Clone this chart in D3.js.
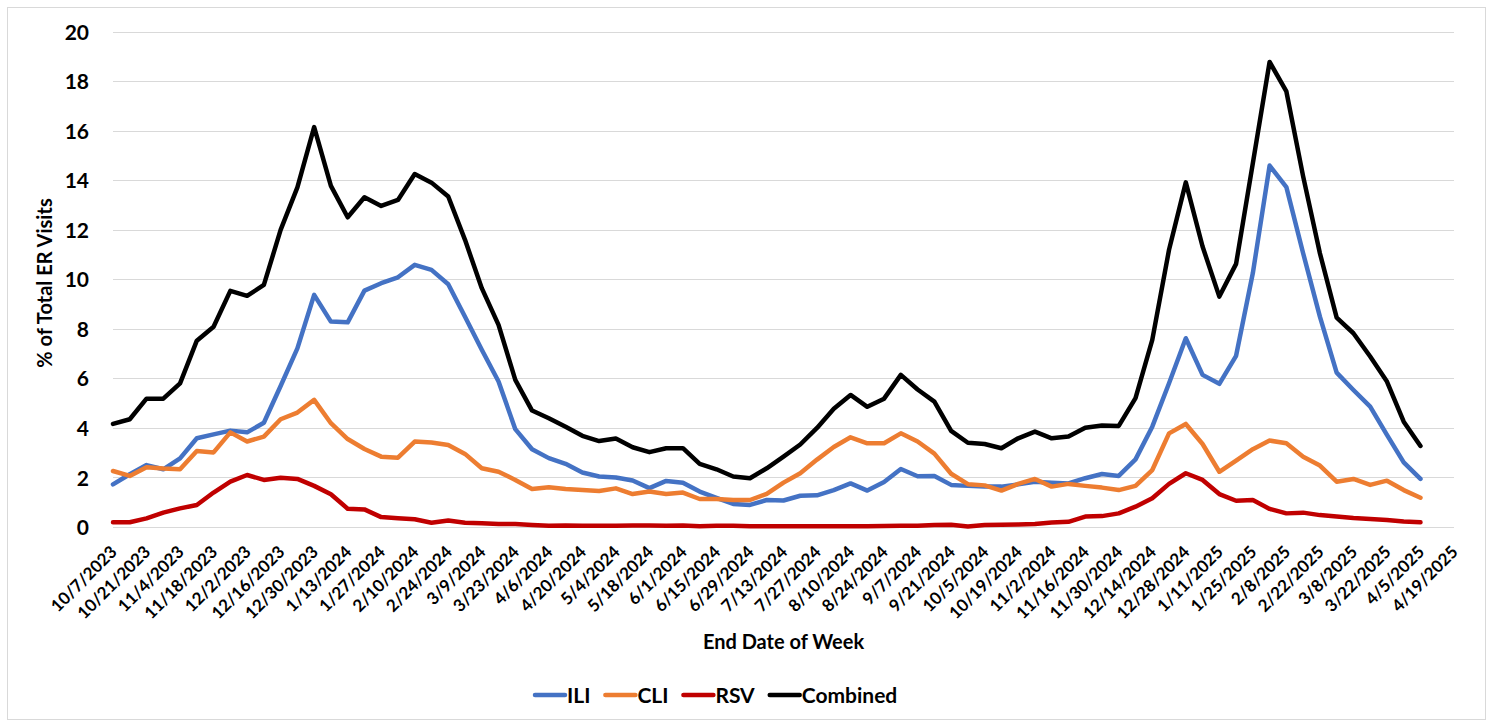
<!DOCTYPE html>
<html><head><meta charset="utf-8">
<script src="https://cdn.jsdelivr.net/npm/d3@7"></script>
<style>
body{margin:0;background:#fff}
svg{display:block}
text{font-family:Lato,'Open Sans',sans-serif;font-weight:700;fill:#000}
</style>
</head><body>
<svg id="chart" width="1493" height="721"></svg>
<script>
const firstWeek = "10/7/2023";
const tickLabels = ["10/7/2023","10/21/2023","11/4/2023","11/18/2023","12/2/2023","12/16/2023","12/30/2023",
"1/13/2024","1/27/2024","2/10/2024","2/24/2024","3/9/2024","3/23/2024","4/6/2024","4/20/2024","5/4/2024",
"5/18/2024","6/1/2024","6/15/2024","6/29/2024","7/13/2024","7/27/2024","8/10/2024","8/24/2024","9/7/2024",
"9/21/2024","10/5/2024","10/19/2024","11/2/2024","11/16/2024","11/30/2024","12/14/2024","12/28/2024",
"1/11/2025","1/25/2025","2/8/2025","2/22/2025","3/8/2025","3/22/2025","4/5/2025","4/19/2025"];

const ili = [1.72,2.13,2.50,2.33,2.77,3.58,3.74,3.89,3.82,4.21,5.69,7.21,9.37,8.29,8.26,9.54,9.84,10.08,10.58,10.38,
9.80,8.49,7.15,5.87,3.95,3.14,2.78,2.55,2.20,2.04,2.00,1.88,1.57,1.86,1.79,1.43,1.18,0.93,0.89,1.09,
1.07,1.26,1.28,1.49,1.76,1.47,1.82,2.34,2.05,2.06,1.70,1.66,1.63,1.63,1.72,1.83,1.79,1.76,1.97,2.14,
2.06,2.73,4.05,5.80,7.62,6.14,5.78,6.91,10.25,14.59,13.72,11.05,8.49,6.23,5.53,4.86,3.72,2.61,1.94];

const cli = [2.26,2.06,2.41,2.36,2.33,3.07,3.01,3.82,3.45,3.65,4.35,4.62,5.13,4.19,3.55,3.15,2.84,2.80,3.45,3.41,
3.31,2.95,2.37,2.23,1.90,1.53,1.60,1.53,1.49,1.45,1.56,1.33,1.43,1.33,1.39,1.13,1.13,1.09,1.09,1.34,
1.79,2.17,2.72,3.23,3.62,3.38,3.38,3.78,3.45,2.96,2.15,1.73,1.68,1.47,1.74,1.94,1.63,1.74,1.66,1.59,
1.49,1.66,2.30,3.78,4.16,3.35,2.23,2.68,3.14,3.49,3.38,2.84,2.48,1.83,1.94,1.70,1.87,1.49,1.18];

const rsv = [0.19,0.19,0.35,0.58,0.75,0.89,1.39,1.83,2.10,1.90,1.99,1.94,1.66,1.32,0.74,0.71,0.40,0.35,0.31,0.17,
0.26,0.17,0.15,0.12,0.12,0.08,0.05,0.06,0.05,0.05,0.05,0.06,0.06,0.05,0.06,0.03,0.05,0.05,0.03,0.03,
0.03,0.03,0.03,0.03,0.03,0.03,0.04,0.05,0.05,0.08,0.09,0.02,0.08,0.09,0.10,0.12,0.18,0.21,0.42,0.44,
0.55,0.82,1.16,1.74,2.17,1.90,1.33,1.06,1.09,0.73,0.55,0.58,0.48,0.42,0.36,0.32,0.28,0.22,0.19];

const combined = [4.16,4.35,5.18,5.18,5.80,7.52,8.08,9.53,9.33,9.77,11.99,13.71,16.14,13.77,12.50,13.31,12.96,13.20,14.25,13.90,
13.34,11.59,9.64,8.16,5.94,4.70,4.39,4.05,3.68,3.47,3.57,3.22,3.02,3.18,3.18,2.55,2.33,2.04,1.97,2.37,
2.84,3.33,4.00,4.77,5.33,4.85,5.18,6.14,5.55,5.06,3.88,3.40,3.35,3.18,3.58,3.85,3.58,3.65,4.01,4.10,
4.08,5.20,7.55,11.19,13.91,11.32,9.30,10.62,14.69,18.77,17.58,14.15,11.05,8.45,7.82,6.88,5.87,4.25,3.27];

const seriesNames = ["ILI","CLI","RSV","Combined"];
const seriesColors = ["#4472C4","#ED7D31","#C00000","#000000"];
const yTicks = [0,2,4,6,8,10,12,14,16,18,20];
const yTitle = "% of Total ER Visits";
const xTitle = "End Date of Week";

const parse = d3.utcParse("%m/%d/%Y");
const start = parse(firstWeek);
const weeks = ili.map((_, i) => d3.utcDay.offset(start, 7 * i));
const seriesData = [ili, cli, rsv, combined];

const svg = d3.select("#chart");
svg.append("rect").attr("x",7.5).attr("y",7.5).attr("width",1478).attr("height",712)
  .attr("fill","#fff").attr("stroke","#d9d9d9").attr("stroke-width",1);

const x = d3.scaleUtc().domain([parse(tickLabels[0]), parse(tickLabels[tickLabels.length-1])]).range([113, 1454]);
const y = d3.scaleLinear().domain([0, 20]).range([527, 31.5]);

// gridlines
svg.append("g").selectAll("line").data(yTicks).join("line")
  .attr("x1", 113).attr("x2", 1454)
  .attr("y1", d => Math.round(y(d)) + 0.5).attr("y2", d => Math.round(y(d)) + 0.5)
  .attr("stroke", "#d9d9d9").attr("stroke-width", 1);

// y axis labels
const yAxis = d3.axisLeft(y).tickValues(yTicks).tickSize(0).tickPadding(0).tickFormat(d3.format("d"));
const gy = svg.append("g").attr("transform", "translate(89,0)").call(yAxis);
gy.select(".domain").remove();
gy.selectAll("text").attr("font-size", 21).attr("font-family", "Lato").attr("font-weight", 700).attr("fill","#000").attr("dy","0.36em");

// x axis labels
const gx = svg.append("g");
gx.selectAll("text").data(tickLabels).join("text")
  .attr("transform", d => `translate(${x(parse(d)) + 5},553) rotate(-45)`)
  .attr("text-anchor", "end").attr("font-size", 17).text(d => d);

// titles
svg.append("text").attr("transform", `translate(52,283) rotate(-90)`)
  .attr("text-anchor", "middle").attr("font-size", 20).text(yTitle);
svg.append("text").attr("x", (113+1454)/2).attr("y", 649).attr("text-anchor", "middle")
  .attr("font-size", 20).text(xTitle);

// lines
const line = d3.line().x((d, i) => x(weeks[i])).y(d => y(d));
svg.append("g").selectAll("path").data(seriesData).join("path")
  .attr("d", d => line(d)).attr("fill", "none")
  .attr("stroke", (d, i) => seriesColors[i]).attr("stroke-width", 4.5)
  .attr("stroke-linejoin", "round").attr("stroke-linecap", "round");

// legend
const legend = svg.append("g");
let lx = 535;
seriesNames.forEach((name, i) => {
  legend.append("line").attr("x1", lx).attr("x2", lx + 30).attr("y1", 695).attr("y2", 695)
    .attr("stroke", seriesColors[i]).attr("stroke-width", 4.5).attr("stroke-linecap", "round");
  const t = legend.append("text").attr("x", lx + 32).attr("y", 703).attr("font-size", 21).text(name);
  lx += 32 + t.node().getComputedTextLength() + 15;
});
</script>
</body></html>
